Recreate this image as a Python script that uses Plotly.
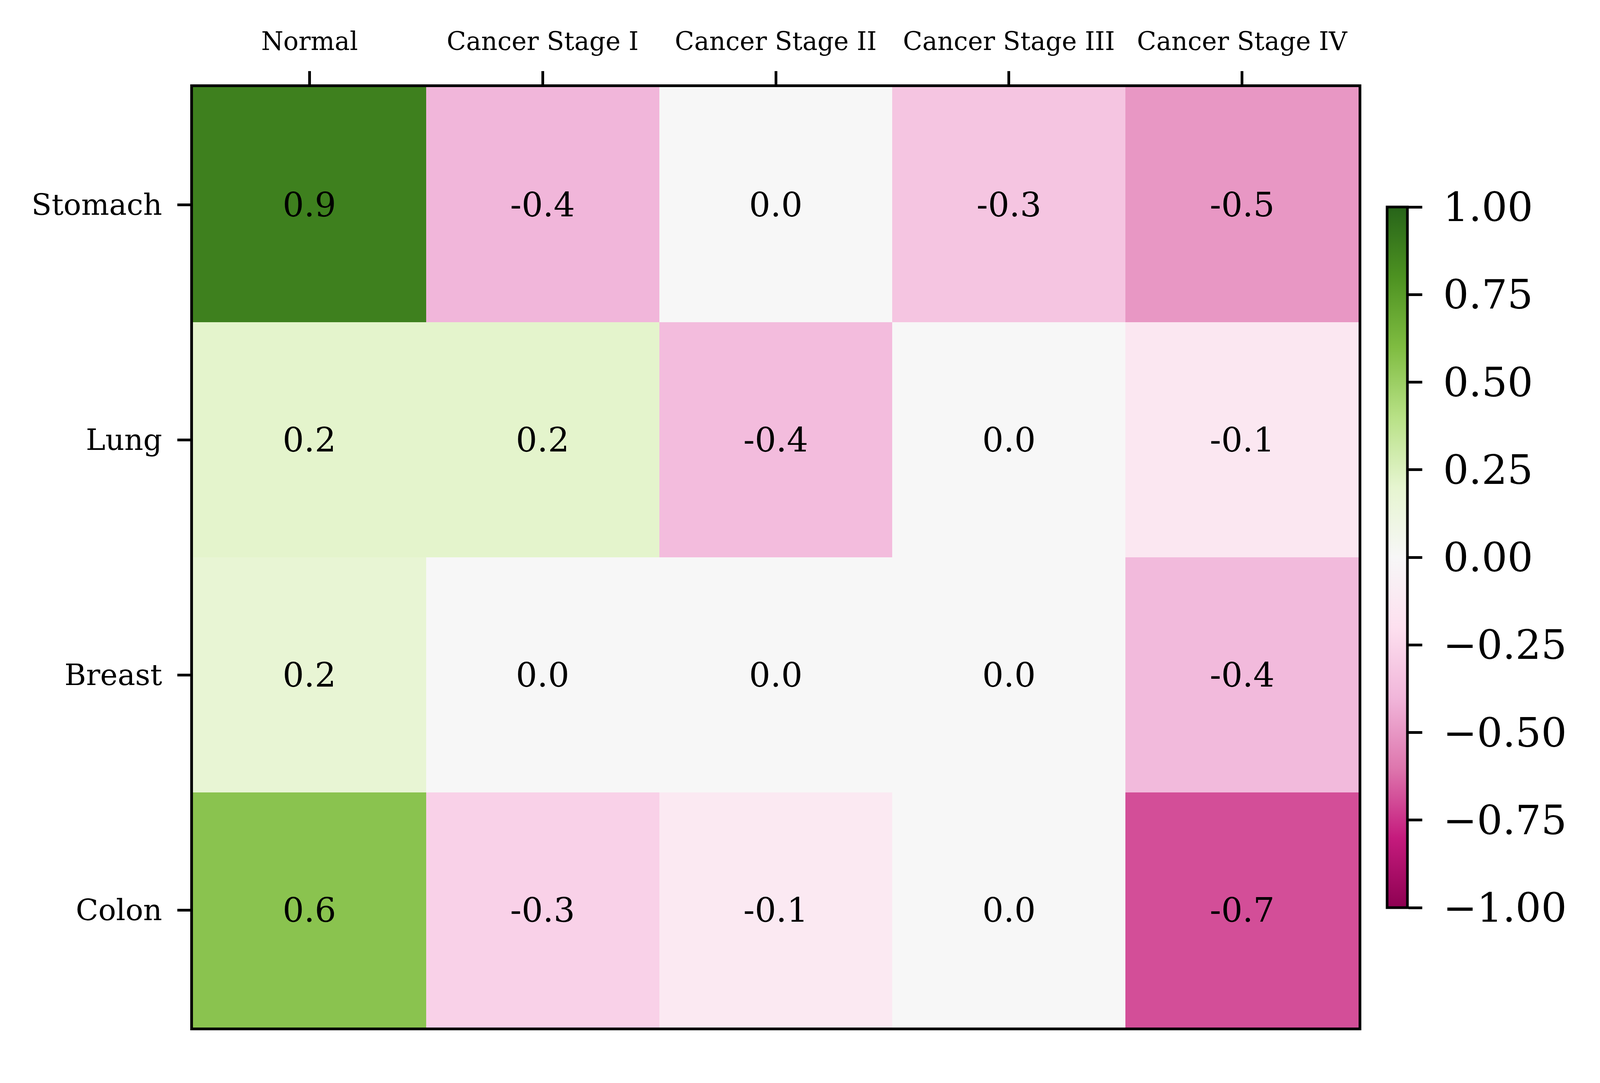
import plotly.graph_objects as go

# data
stages = ["Normal", "Cancer Stage I", "Cancer Stage II", "Cancer Stage III", "Cancer Stage IV"]
organs = ["Stomach", "Lung", "Breast", "Colon"]

stomach = [0.88, -0.40, 0.00, -0.33, -0.50]
lung = [0.21, 0.21, -0.37, 0.00, -0.14]
breast = [0.18, 0.00, 0.00, 0.00, -0.38]
colon = [0.56, -0.27, -0.12, 0.00, -0.69]

cbar_ticks = [-1.0, -0.75, -0.5, -0.25, 0.0, 0.25, 0.5, 0.75, 1.0]

z = [stomach, lung, breast, colon]
labels = [[f"{v:.1f}" for v in row] for row in z]

# matplotlib PiYG
piyg = ["#8e0152", "#c51b7d", "#de77ae", "#f1b6da", "#fde0ef", "#f7f7f7",
        "#e6f5d0", "#b8e186", "#7fbc41", "#4d9221", "#276419"]
cscale = [[i / (len(piyg) - 1), c] for i, c in enumerate(piyg)]

font = "DejaVu Serif"
S = 0.9667  # page px per screenshot px


def px(v):
    return round(v * S, 1)


cbar_text = ["\u00a0" + f"{t:.2f}".replace("-", "\u2212") for t in cbar_ticks]

fig = go.Figure(go.Heatmap(
    z=z, x=stages, y=organs,
    zmin=-1, zmax=1, colorscale=cscale,
    text=labels, texttemplate="%{text}",
    textfont=dict(family=font, size=px(89), color="black"),
    colorbar=dict(
        thickness=px(54), len=0.745, x=1.0246, xanchor="left", xpad=0,
        y=0.5, yanchor="middle", ypad=0,
        outlinewidth=px(7), outlinecolor="black",
        tickvals=cbar_ticks, ticktext=cbar_text,
        ticks="outside", ticklen=px(36), tickwidth=px(7), tickcolor="black",
        tickfont=dict(family=font, size=px(107), color="black"),
    ),
))

fig.update_xaxes(side="top", ticks="outside", ticklen=px(35), tickwidth=px(7), tickcolor="black",
                 ticklabelstandoff=28,
                 tickfont=dict(family=font, size=px(67), color="black"),
                 showline=True, linewidth=px(7), linecolor="black", mirror=True,
                 showgrid=False, zeroline=False)
fig.update_yaxes(autorange="reversed", ticks="outside", ticklen=px(34), tickwidth=px(7), tickcolor="black",
                 ticklabelstandoff=24,
                 tickfont=dict(family=font, size=px(78), color="black"),
                 showline=True, linewidth=px(7), linecolor="black", mirror=True,
                 showgrid=False, zeroline=False)

fig.update_layout(
    width=px(4225), height=px(2773),
    margin=dict(l=px(503), r=px(635), t=px(222), b=px(60), autoexpand=False),
    plot_bgcolor="white", paper_bgcolor="white",
    font=dict(family=font, color="black"),
)

fig.write_html("out.html")
